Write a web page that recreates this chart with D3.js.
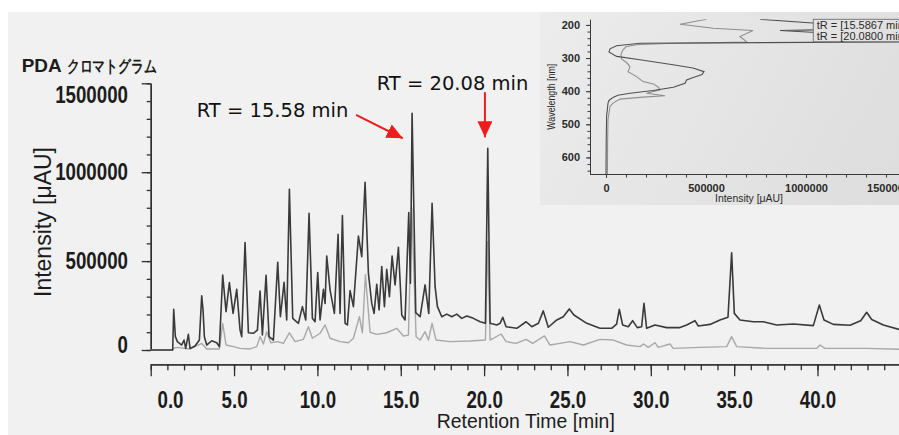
<!DOCTYPE html>
<html>
<head>
<meta charset="utf-8">
<script src="https://cdn.jsdelivr.net/npm/d3@7"></script>
<style>
  body { margin: 0; background: #fff; }
  svg { display: block; }
  .scan text { font-family: "Liberation Sans", Arial, sans-serif; fill: #1c1c1c; }
  .scan .domain, .scan .tick line { stroke: #2e2e2e; stroke-width: 1.3; }
  .inset text { font-family: "Liberation Sans", Arial, sans-serif; fill: #2a2a2a; }
  .inset .domain, .inset .tick line { stroke: #3a3a3a; stroke-width: 1; }
</style>
</head>
<body>
<svg id="chrom" width="899" height="435"></svg>
<script>

// PDA chromatogram: [retention time (min), intensity (µAU)]
var sampleTrace = [[0,0],[1.32,0],[1.38,229000],[1.48,75000],[1.60,47000],[1.86,28000],[2.0,56000],[2.1,9000],[2.26,88000],[2.36,9000],[2.66,22000],[2.92,56000],[3.06,305000],[3.14,225000],[3.22,75000],[3.36,28000],[3.66,52000],[3.96,41000],[4.12,19000],[4.32,422000],[4.52,215000],[4.72,379000],[4.94,206000],[5.16,341000],[5.36,112000],[5.46,75000],[5.66,604000],[5.86,97000],[6.16,94000],[6.40,112000],[6.56,332000],[6.70,84000],[6.92,420000],[7.10,75000],[7.36,56000],[7.62,493000],[7.78,187000],[8.0,381000],[8.16,169000],[8.32,904000],[8.52,178000],[8.86,150000],[9.10,244000],[9.30,169000],[9.50,769000],[9.70,178000],[9.86,159000],[10.02,435000],[10.16,169000],[10.36,341000],[10.46,262000],[10.56,529000],[10.76,337000],[11.02,206000],[11.24,651000],[11.36,206000],[11.50,756000],[11.66,150000],[11.80,141000],[11.96,334000],[12.16,244000],[12.46,641000],[12.66,525000],[12.86,943000],[13.06,431000],[13.26,262000],[13.40,206000],[13.56,369000],[13.70,225000],[13.86,469000],[14.02,244000],[14.16,454000],[14.32,300000],[14.48,529000],[14.66,366000],[14.86,578000],[15.06,197000],[15.26,169000],[15.48,773000],[15.58,375000],[15.68,1331000],[15.90,210000],[16.16,187000],[16.46,366000],[16.68,206000],[16.88,825000],[17.06,356000],[17.20,244000],[17.46,187000],[17.76,202000],[18.06,187000],[18.36,202000],[18.66,178000],[18.96,191000],[19.36,178000],[19.76,159000],[20.08,150000],[20.22,1135000],[20.36,150000],[20.76,141000],[20.96,150000],[21.12,184000],[21.32,131000],[21.96,122000],[22.52,159000],[22.86,131000],[23.26,150000],[23.55,220000],[23.85,128000],[24.36,169000],[24.75,187000],[25.11,231000],[25.39,197000],[26.16,150000],[26.95,122000],[27.65,122000],[27.95,146000],[28.11,229000],[28.31,141000],[28.65,131000],[28.91,165000],[29.19,126000],[29.45,131000],[29.59,262000],[29.75,122000],[30.25,141000],[30.95,126000],[31.75,126000],[32.15,141000],[32.65,165000],[32.85,135000],[33.55,144000],[34.15,169000],[34.63,184000],[34.85,547000],[35.01,206000],[35.35,169000],[36.15,159000],[36.75,159000],[37.55,141000],[38.55,146000],[39.75,137000],[40.11,253000],[40.39,169000],[40.95,144000],[41.95,139000],[42.59,165000],[42.95,212000],[43.25,172000],[43.95,141000],[44.89,116000],[45,112000]];

var referenceTrace = [[0,0],[1.32,0],[1.38,10000],[1.58,15000],[2.36,6000],[3.06,37000],[3.36,6000],[4.12,6000],[4.32,150000],[4.52,28000],[4.96,19000],[5.36,9000],[5.96,6000],[6.36,19000],[6.56,75000],[6.76,34000],[6.96,103000],[7.20,41000],[7.62,47000],[7.96,37000],[8.32,97000],[8.66,47000],[9.16,60000],[9.46,131000],[9.70,66000],[10.16,94000],[10.46,141000],[10.76,66000],[11.36,47000],[11.86,41000],[12.16,66000],[12.52,187000],[12.70,97000],[12.88,425000],[13.16,100000],[13.56,88000],[14.16,97000],[14.76,122000],[15.16,79000],[15.46,84000],[15.66,800000],[15.92,75000],[16.16,56000],[16.46,103000],[16.66,56000],[16.88,150000],[17.12,56000],[17.96,47000],[19.16,51000],[20.08,56000],[20.22,609000],[20.36,56000],[21.02,90000],[21.32,47000],[21.92,37000],[22.52,60000],[22.92,37000],[23.62,79000],[23.95,28000],[24.55,37000],[25.15,47000],[25.95,28000],[26.95,60000],[27.75,56000],[28.55,28000],[29.35,19000],[29.55,34000],[29.85,15000],[30.25,41000],[30.45,15000],[31.15,34000],[31.35,9000],[32.95,15000],[34.55,19000],[34.85,75000],[35.15,19000],[36.95,9000],[39.95,9000],[40.15,28000],[40.45,9000],[42.95,9000],[44.89,4000],[45,4000]];

// UV spectra of the two peaks: [wavelength (nm), intensity (µAU)]
var spectrum1558 = [[183,770000],[195,1050000],[200,1900000],[212,1900000],[215,1050000],[217,870000],[223,1050000],[230,2000000],[248,2000000],[251,1465000],[255.5,170000],[263,53000],[272,20000],[282,15000],[295,53000],[305,170000],[320,335000],[330,435000],[341,490000],[350,480000],[358,440000],[366,403000],[376,395000],[388,337000],[398,236000],[406,120000],[412,60000],[418,37000],[428,15000],[436,10000],[476,3000],[560,1000],[650,0]];
var spectrum2008 = [[183,503000],[198,370000],[210,537000],[217,735000],[235,670000],[252,705000],[256,300000],[260,150000],[266,100000],[275,85000],[288,75000],[303,78000],[315,105000],[326,120000],[341,110000],[356,153000],[371,185000],[378,237000],[388,262000],[396,270000],[406,203000],[414,295000],[418,185000],[424,70000],[436,35000],[446,20000],[486,10000],[560,8000],[650,7000]];

var rtTicks = [0, 5, 10, 15, 20, 25, 30, 35, 40, 45];
var rtLabels = ["0.0", "5.0", "10.0", "15.0", "20.0", "25.0", "30.0", "35.0", "40.0", ""];
var intensityTicks = [0, 500000, 1000000, 1500000];
var wavelengthTicks = [200, 300, 400, 500, 600];
var spectrumTicks = [0, 500000, 1000000, 1500000];
var legendLabels = ["tR = [15.5867 min]", "tR = [20.0800 min]"];

// labels + arrows, in data units (time, intensity)
var annotations = [
  {text: "RT = 15.58 min", t: 2.76, v: 1309000, from: [12.32, 1322000], to: [15.12, 1191000]},
  {text: "RT = 20.08 min", t: 13.56, v: 1462000, from: [20.05, 1450000], to: [20.05, 1196000]}
];

var svg = d3.select("#chrom");
var defs = svg.append("defs");

// scanned paper
svg.append("rect")
  .attr("x", 8).attr("y", 12)
  .attr("width", 891).attr("height", 423)
  .attr("fill", "#f1f1f1");

var xMain = d3.scaleLinear().domain([0, 45]).range([150.7, 900.85]);
var yMain = d3.scaleLinear().domain([0, 1500000]).range([350, 83.3]);

// tick font on the print is narrow, squeeze it
var squeeze = 0.78;

var g = svg.append("g").attr("class", "scan");

// y axis, minor ticks first then the labelled ones
g.append("g")
  .attr("transform", "translate(150.7,0)")
  .call(d3.axisLeft(yMain).tickValues(d3.range(0, 1500001, 100000)).tickSize(4).tickSizeOuter(0).tickFormat(""));

var yAxis = g.append("g")
  .attr("transform", "translate(150.7,0)")
  .call(d3.axisLeft(yMain).tickValues(intensityTicks).tickSize(9).tickSizeOuter(0).tickPadding(13.7).tickFormat(d3.format("d")));
yAxis.attr("font-size", 24).attr("font-family", null).attr("font-weight", "bold");
yAxis.selectAll(".tick text")
  .attr("x", -22.7 / squeeze)
  .attr("transform", "scale(" + squeeze + ",1)");
// the software pushes the end labels inward
yAxis.selectAll(".tick text").filter(function(d) { return d === 0; }).attr("y", -5);
yAxis.selectAll(".tick text").filter(function(d) { return d === 1500000; }).attr("y", 11.7);

// x axis
g.append("g")
  .attr("transform", "translate(0,364.3)")
  .call(d3.axisBottom(xMain).tickValues(d3.range(0, 46, 1)).tickSize(6).tickSizeOuter(0).tickFormat(""));

var xAxis = g.append("g")
  .attr("transform", "translate(0,364.3)")
  .call(d3.axisBottom(xMain).tickValues(rtTicks).tickSize(12).tickSizeOuter(0).tickPadding(14.96)
    .tickFormat(function(d, i) { return rtLabels[i]; }));
xAxis.attr("font-size", 24).attr("font-family", null).attr("font-weight", "bold");
xAxis.selectAll(".tick text").attr("transform", "scale(" + squeeze + ",1)");
xAxis.selectAll(".tick text").filter(function(d) { return d === 0; }).attr("x", 19.3 / squeeze);

g.append("text")
  .attr("x", 525.8).attr("y", 428.3)
  .attr("text-anchor", "middle")
  .attr("font-size", 21)
  .attr("textLength", 178)
  .attr("lengthAdjust", "spacingAndGlyphs")
  .text("Retention Time [min]");

g.append("text")
  .attr("transform", "translate(51,222) rotate(-90)")
  .attr("text-anchor", "middle")
  .attr("font-size", 23)
  .attr("textLength", 150)
  .attr("lengthAdjust", "spacingAndGlyphs")
  .text("Intensity [μAU]");

// "PDA クロマトグラム" header, latin and katakana set apart
g.append("text")
  .attr("x", 21.7).attr("y", 72)
  .attr("font-weight", "bold")
  .attr("font-size", 19)
  .attr("textLength", 40)
  .attr("lengthAdjust", "spacingAndGlyphs")
  .text("PDA");

g.append("text")
  .attr("x", 66.7).attr("y", 72)
  .attr("font-family", "Noto Sans CJK JP")
  .attr("font-weight", "bold")
  .attr("font-size", 17)
  .attr("textLength", 90)
  .attr("lengthAdjust", "spacingAndGlyphs")
  .text("クロマトグラム");

// traces
var traceLine = d3.line()
  .x(function(d) { return xMain(d[0]); })
  .y(function(d) { return yMain(d[1]); });

g.append("path")
  .datum(referenceTrace)
  .attr("fill", "none")
  .attr("stroke", "#a8a8a8")
  .attr("stroke-width", 1.4)
  .attr("stroke-linejoin", "round")
  .attr("d", traceLine);

g.append("path")
  .datum(sampleTrace)
  .attr("fill", "none")
  .attr("stroke", "#3a3a3a")
  .attr("stroke-width", 1.6)
  .attr("stroke-linejoin", "round")
  .attr("d", traceLine);

// red arrows with the RT labels
defs.append("marker")
  .attr("id", "head")
  .attr("markerUnits", "userSpaceOnUse")
  .attr("markerWidth", 17).attr("markerHeight", 16)
  .attr("refX", 16).attr("refY", 7.5)
  .attr("orient", "auto")
  .append("path")
  .attr("d", "M0,0L16,7.5L0,15Z")
  .attr("fill", "#f01c1c");

var notes = svg.append("g").selectAll("g")
  .data(annotations)
  .enter().append("g");

notes.append("line")
  .attr("x1", function(d) { return xMain(d.from[0]); })
  .attr("y1", function(d) { return yMain(d.from[1]); })
  .attr("x2", function(d) { return xMain(d.to[0]); })
  .attr("y2", function(d) { return yMain(d.to[1]); })
  .attr("stroke", "#f01c1c")
  .attr("stroke-width", 2)
  .attr("marker-end", "url(#head)");

notes.append("text")
  .attr("x", function(d) { return xMain(d.t); })
  .attr("y", function(d) { return yMain(d.v); })
  .attr("font-family", "DejaVu Sans, sans-serif")
  .attr("font-size", 19.5)
  .attr("fill", "#111")
  .text(function(d) { return d.text; });

/* inset: spectra at both retention times */

var inset = svg.append("g").attr("class", "inset");

var grad = defs.append("linearGradient")
  .attr("id", "insetBg")
  .attr("gradientUnits", "userSpaceOnUse")
  .attr("x1", 540).attr("y1", 12).attr("x2", 899).attr("y2", 205);
grad.append("stop").attr("offset", 0).attr("stop-color", "#ececec");
grad.append("stop").attr("offset", 1).attr("stop-color", "#dddddd");

inset.append("rect")
  .attr("x", 540).attr("y", 12)
  .attr("width", 359).attr("height", 193)
  .attr("fill", "url(#insetBg)");

var xSpec = d3.scaleLinear().domain([-80000, 1550000]).range([590, 916]);
var ySpec = d3.scaleLinear().domain([183, 650]).range([19.3, 174]);

defs.append("clipPath").attr("id", "specClip")
  .append("rect")
  .attr("x", 590).attr("y", 19.3)
  .attr("width", 320).attr("height", 154.7);

var specLine = d3.line()
  .x(function(d) { return xSpec(d[1]); })
  .y(function(d) { return ySpec(d[0]); });

var specG = inset.append("g").attr("clip-path", "url(#specClip)");

specG.append("path")
  .datum(spectrum2008)
  .attr("fill", "none")
  .attr("stroke", "#8e8e8e")
  .attr("stroke-width", 1.1)
  .attr("d", specLine);

specG.append("path")
  .datum(spectrum1558)
  .attr("fill", "none")
  .attr("stroke", "#505050")
  .attr("stroke-width", 1.1)
  .attr("d", specLine);

inset.append("g")
  .attr("transform", "translate(590,0)")
  .call(d3.axisLeft(ySpec).tickValues(d3.range(200, 641, 20)).tickSize(2.5).tickSizeOuter(0).tickFormat(""));

var ySpecAxis = inset.append("g")
  .attr("transform", "translate(590,0)")
  .call(d3.axisLeft(ySpec).tickValues(wavelengthTicks).tickSize(4).tickSizeOuter(0).tickPadding(6).tickFormat(d3.format("d")));
ySpecAxis.attr("font-size", 11).attr("font-family", null).attr("font-weight", "bold");

inset.append("g")
  .attr("transform", "translate(0,174)")
  .call(d3.axisBottom(xSpec).tickValues(d3.range(0, 1550001, 100000)).tickSize(3.5).tickSizeOuter(0).tickFormat(""));

var xSpecAxis = inset.append("g")
  .attr("transform", "translate(0,174)")
  .call(d3.axisBottom(xSpec).tickValues(spectrumTicks).tickSize(4).tickSizeOuter(0).tickPadding(6.5).tickFormat(d3.format("d")));
xSpecAxis.attr("font-size", 11).attr("font-family", null).attr("font-weight", "bold");
xSpecAxis.selectAll(".tick text").filter(function(d) { return d === 1500000; }).attr("x", -18);

inset.append("text")
  .attr("transform", "translate(555,96.7) rotate(-90)")
  .attr("text-anchor", "middle")
  .attr("font-size", 10)
  .attr("textLength", 66)
  .attr("lengthAdjust", "spacingAndGlyphs")
  .text("Wavelength [nm]");

inset.append("text")
  .attr("x", 749).attr("y", 201.5)
  .attr("text-anchor", "middle")
  .attr("font-size", 10.5)
  .attr("textLength", 68)
  .attr("lengthAdjust", "spacingAndGlyphs")
  .text("Intensity [μAU]");

// legend box sits over the clipped spectra
inset.append("rect")
  .attr("x", 813.3).attr("y", 19.3)
  .attr("width", 100).attr("height", 22.4)
  .attr("fill", "url(#insetBg)")
  .attr("stroke", "#7a7a7a");

inset.selectAll(".leg")
  .data(legendLabels)
  .enter().append("text")
  .attr("class", "leg")
  .attr("x", 816.7)
  .attr("y", function(d, i) { return 29 + i * 11.2; })
  .attr("font-size", 11)
  .text(function(d) { return d; });

</script>
</body>
</html>
